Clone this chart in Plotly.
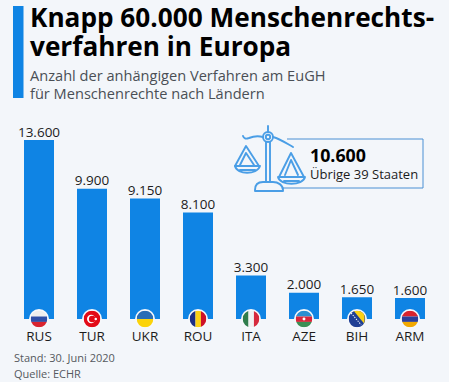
import base64
import plotly.graph_objects as go

COUNTRIES = ["RUS", "TUR", "UKR", "ROU", "ITA", "AZE", "BIH", "ARM"]
CASES = [13600, 9900, 9150, 8100, 3300, 2000, 1650, 1600]
TITLE_LINES = ["Knapp 60.000 Menschenrechts-", "verfahren in Europa"]
SUBTITLE_LINES = ["Anzahl der anhängigen Verfahren am EuGH", "für Menschenrechte nach Ländern"]
NOTE_LINES = ["Stand: 30. Juni 2020", "Quelle: ECHR"]
CALLOUT_VALUE = "10.600"
CALLOUT_LABEL = "Übrige 39 Staaten"

W, H = 449, 382
BLUE = "#0f84e4"
BG = "#f3f6fa"
PX_PER_CASE = 179 / 13600
BELOW_ZERO = 9 / PX_PER_CASE


def uri(svg):
    return "data:image/svg+xml;base64," + base64.b64encode(svg.encode()).decode()


FLAG_BODIES = {
    "RUS": '<rect width="40" height="14" fill="#eeeeee"/><rect y="14" width="40" height="13" fill="#2f4fa8"/><rect y="27" width="40" height="13" fill="#d8232f"/>',
    "TUR": '<rect width="40" height="40" fill="#e30a17"/><circle cx="18" cy="20" r="10" fill="#fff"/><circle cx="20.5" cy="20" r="8" fill="#e30a17"/><circle cx="29" cy="20" r="3" fill="#fff"/>',
    "UKR": '<rect width="40" height="20" fill="#2a6db5"/><rect y="20" width="40" height="20" fill="#fbd30a"/>',
    "ROU": '<rect width="14" height="40" fill="#1d2f86"/><rect x="14" width="13" height="40" fill="#fbd116"/><rect x="27" width="13" height="40" fill="#ce1126"/>',
    "ITA": '<rect width="14" height="40" fill="#2f7d4c"/><rect x="14" width="13" height="40" fill="#f1f1f1"/><rect x="27" width="13" height="40" fill="#d6293c"/>',
    "AZE": '<rect width="40" height="14" fill="#2a8fd0"/><rect y="14" width="40" height="13" fill="#d9263a"/><rect y="27" width="40" height="13" fill="#3b8f55"/><circle cx="20" cy="20" r="3.5" fill="#fff"/>',
    "BIH": '<rect width="40" height="40" fill="#1f3f95"/><path d="M12 0H38V32Z" fill="#fbd116"/><path d="M6 6L30 34" stroke="#fff" stroke-width="2.5" stroke-dasharray="3 3"/>',
    "ARM": '<rect width="40" height="14" fill="#d9232e"/><rect y="14" width="40" height="13" fill="#2b3f9c"/><rect y="27" width="40" height="13" fill="#f2a800"/>',
}


def flag_svg(code):
    return uri(
        '<svg xmlns="http://www.w3.org/2000/svg" width="48" height="48" viewBox="-4 -4 48 48">'
        '<defs><clipPath id="c"><circle cx="20" cy="20" r="20"/></clipPath></defs>'
        '<circle cx="20" cy="20" r="24" fill="#f6f8fb"/>'
        f'<g clip-path="url(#c)">{FLAG_BODIES[code]}</g></svg>'
    )


ICON = uri(
    '<svg xmlns="http://www.w3.org/2000/svg" width="80" height="76" viewBox="228 120 80 76">'
    '<g fill="none" stroke="#4a9ee6" stroke-width="1.9" stroke-linejoin="round" stroke-linecap="round">'
    '<path d="M243 136c1 3 3 3 6 2c5-2 10-2 14-1M273 137c7 2 13 6 20 10"/>'
    '<circle cx="268" cy="137" r="5"/><circle cx="268" cy="137" r="2.2"/>'
    '<path d="M268 126v6M266 142v40M270 142v40"/>'
    '<path d="M255 190c0-5 3-8 8-8h10c5 0 10 3 10 8v1h-28z"/>'
    '<path d="M246 146L235 166M246 146L259 166M246 153L240 165M246 153L254 165"/>'
    '<path d="M235 166c2 9 22 9 25 0zM240 170h15"/>'
    '<path d="M291 153L279 177M291 153L304 177M291 160L285 175M291 160L298 175"/>'
    '<path d="M278 177c2 9 25 9 27 0zM284 181h15"/>'
    '</g></svg>'
)

fig = go.Figure()
fig.add_bar(
    x=COUNTRIES,
    y=CASES,
    marker=dict(color=BLUE, line_width=0),
    hoverinfo="skip",
)
fig.add_scatter(
    x=COUNTRIES,
    y=CASES,
    mode="text",
    texttemplate="%{y:,}",
    textposition="top center",
    textfont=dict(family="Open Sans", size=13.5, color="#1c1c1c"),
    cliponaxis=False,
    hoverinfo="skip",
)

images = [
    dict(source=flag_svg(c), xref="x", yref="y", x=c, y=0, sizex=20 / 53, sizey=20 / PX_PER_CASE,
         sizing="stretch", xanchor="center", yanchor="middle", layer="above")
    for c in COUNTRIES
]
images.append(dict(source=ICON, xref="paper", yref="paper", x=228 / W, y=1 - 120 / H,
                   sizex=80 / W, sizey=76 / H, sizing="stretch", xanchor="left", yanchor="top", layer="above"))


def text(x, y, s, size, color, bold=False):
    return dict(
        xref="paper", yref="paper", x=x / W, y=1 - y / H, text=f"<b>{s}</b>" if bold else s,
        showarrow=False, xanchor="left", yanchor="middle", align="left",
        font=dict(family="Open Sans", size=size, color=color),
    )


annotations = [
    text(27.5, 17, TITLE_LINES[0], 26.2, "#000000", True),
    text(27.5, 45.5, TITLE_LINES[1], 26.2, "#000000", True),
    text(28, 75, SUBTITLE_LINES[0], 14.6, "#4a4f55"),
    text(28, 93, SUBTITLE_LINES[1], 14.6, "#4a4f55"),
    text(11.5, 357, NOTE_LINES[0], 11, "#55595e"),
    text(11.5, 373, NOTE_LINES[1], 11, "#55595e"),
    text(308, 154.5, CALLOUT_VALUE, 17.8, "#000000", True),
    text(308, 174, CALLOUT_LABEL, 13, "#1c1c1c"),
]

shapes = [
    dict(type="rect", xref="paper", yref="paper", x0=13 / W, x1=23.5 / W, y0=1 - 98 / H, y1=1 - 6 / H,
         fillcolor=BLUE, line_width=0),
    dict(type="path", xref="paper", yref="paper",
         path=f"M {287/W} {1-139/H} L {423/W} {1-139/H} L {423/W} {1-188/H} L {283/W} {1-188/H}",
         line=dict(color="#4a90d4", width=1)),
]

fig.update_layout(
    width=W, height=H,
    margin=dict(l=0, r=0, t=0, b=0, pad=0),
    paper_bgcolor=BG, plot_bgcolor=BG,
    separators=",.",
    showlegend=False,
    bargap=23 / 53,
    xaxis=dict(domain=[12.5 / W, 436.5 / W], type="category", showgrid=False, showline=False,
               zeroline=False, ticks="", ticklabelstandoff=-2,
               tickfont=dict(family="Open Sans", size=13.5, color="#1c1c1c")),
    yaxis=dict(domain=[1 - 328 / H, 1 - 140 / H], range=[-BELOW_ZERO, 13600], visible=False),
    images=images, annotations=annotations, shapes=shapes,
)
fig.write_html("out.html", post_script="document.body.style.margin='0';", config={"displayModeBar": False})
